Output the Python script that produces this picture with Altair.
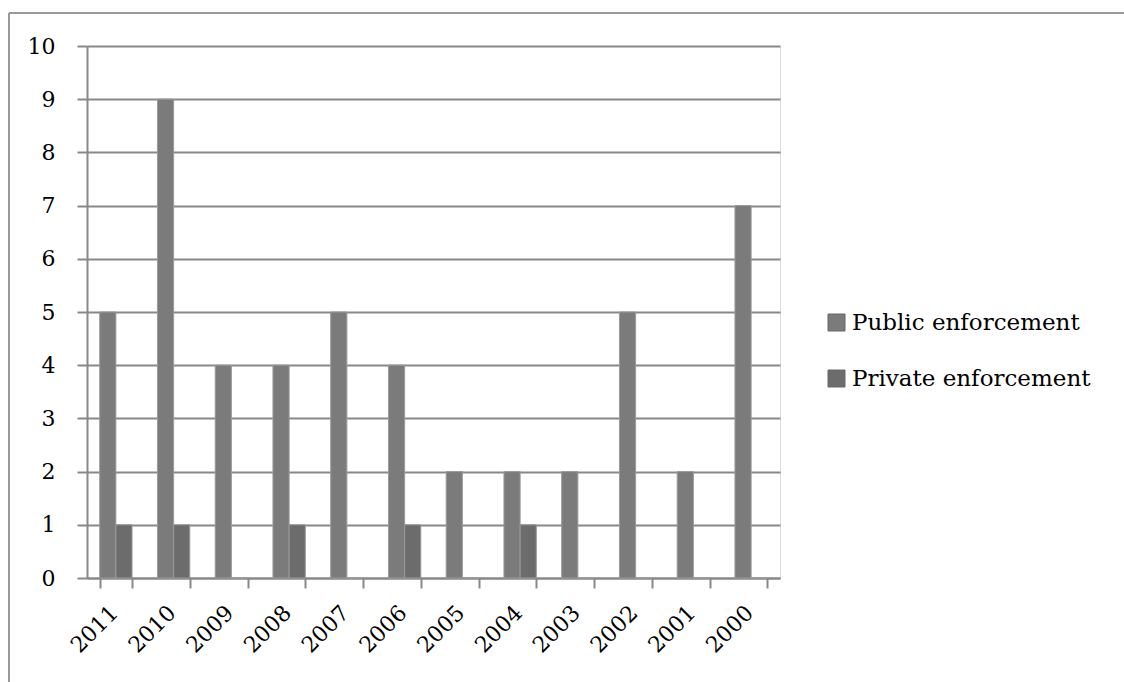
import altair as alt
import pandas as pd

years = ["2011", "2010", "2009", "2008", "2007", "2006", "2005", "2004", "2003", "2002", "2001", "2000"]
public = [5, 9, 4, 4, 5, 4, 2, 2, 2, 5, 2, 7]
private = [1, 1, 0, 1, 0, 1, 0, 1, 0, 0, 0, 0]
series = ["Public enforcement", "Private enforcement"]
y_ticks = [0, 1, 2, 3, 4, 5, 6, 7, 8, 9, 10]

rows = []
for i, yr in enumerate(years):
    rows.append({"year": yr, "series": series[0], "value": public[i]})
    rows.append({"year": yr, "series": series[1], "value": private[i]})
df = pd.DataFrame(rows)

W, H = 693, 532
FONT = "DejaVu Serif"

bars = alt.Chart(df).mark_bar(stroke="#9a9a9a", strokeWidth=1).encode(
    x=alt.X("year:N", sort=years, title=None,
            scale=alt.Scale(paddingInner=0.44, paddingOuter=0.22),
            axis=alt.Axis(labelAngle=-45, labelAlign="right", labelBaseline="middle",
                          labelFont=FONT, labelFontSize=22, labelColor="#000",
                          tickBand="extent", tickSize=10, tickColor="#888",
                          tickWidth=2, domainColor="#888", domainWidth=2,
                          labelPadding=21, labelOffset=-2, grid=False)),
    xOffset=alt.XOffset("series:N", sort=series),
    y=alt.Y("value:Q", title=None,
            scale=alt.Scale(domain=[0, 10], nice=False),
            axis=alt.Axis(values=y_ticks, labelFont=FONT, labelFontSize=22,
                          labelColor="#000", tickSize=10, tickColor="#888",
                          tickWidth=2, domainColor="#888", domainWidth=2,
                          gridColor="#888", gridWidth=2, labelPadding=22)),
    color=alt.Color("series:N", sort=series,
                    scale=alt.Scale(domain=series, range=["#7b7b7b", "#6c6c6c"]),
                    legend=alt.Legend(title=None, orient="none", legendX=738, legendY=265,
                                      labelFont=FONT, labelFontSize=23, labelColor="#000",
                                      symbolType="square", symbolSize=289,
                                      symbolStrokeColor="#666", symbolStrokeWidth=1,
                                      rowPadding=32, labelOffset=4, labelLimit=400)),
)

frame = alt.Chart(pd.DataFrame({"a": [0]})).mark_rule(
    stroke="#999", strokeWidth=2
).encode(x=alt.value(-78), x2=alt.value(1200), y=alt.value(-33), y2=alt.value(-33))

frame_left = alt.Chart(pd.DataFrame({"a": [0]})).mark_rule(
    stroke="#999", strokeWidth=2
).encode(x=alt.value(-78), y=alt.value(-33), y2=alt.value(800))

chart = alt.layer(frame, frame_left, bars).properties(
    width=W, height=H,
    padding={"left": 87, "top": 46, "right": 1124 - 87 - W, "bottom": 682 - 46 - H},
    autosize=alt.AutoSizeParams(type="none"),
).configure_view(stroke=None).configure(background="white")

chart.save("out.html", embed_options={"renderer": "svg", "actions": False})
